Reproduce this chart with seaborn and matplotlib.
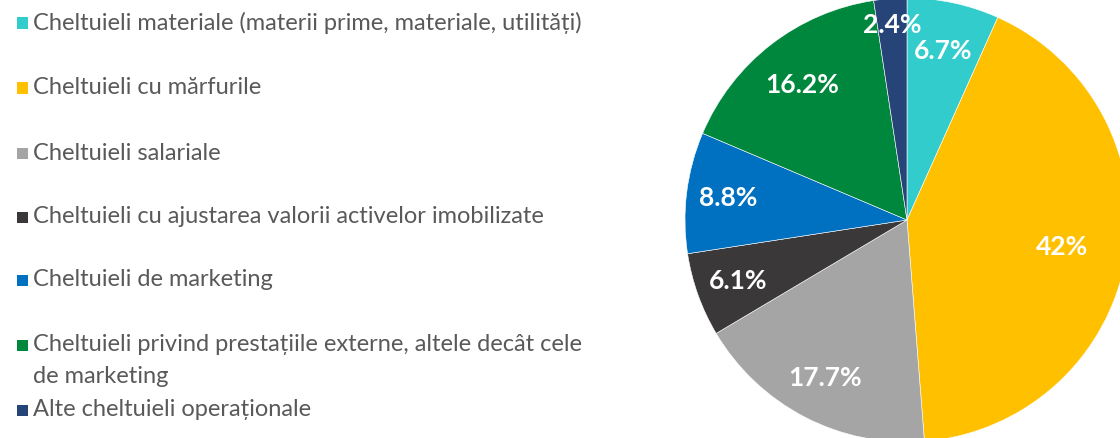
import numpy as np
import matplotlib
matplotlib.use("Agg")
import matplotlib.pyplot as plt
import matplotlib.patches as mpatches
import seaborn as sns

categories = [
    "Cheltuieli materiale (materii prime, materiale, utilități)",
    "Cheltuieli cu mărfurile",
    "Cheltuieli salariale",
    "Cheltuieli cu ajustarea valorii activelor imobilizate",
    "Cheltuieli de marketing",
    "Cheltuieli privind prestațiile externe, altele decât cele\nde marketing",
    "Alte cheltuieli operaționale",
]
values = [6.7, 42.0, 17.7, 6.1, 8.8, 16.2, 2.4]
colors = ["#33CCCC", "#FFC000", "#A5A5A5", "#3A3838", "#0070C0", "#00873E", "#264478"]

sns.set_theme(style="white")
plt.rcParams["font.family"] = ["Lato", "DejaVu Sans"]

W, H = 1120, 438
fig = plt.figure(figsize=(W / 100, H / 100), dpi=100)

# Pie axes: center (907, 220) px, radius 222 px
cx, cy, r = 907, 220, 222
ax = fig.add_axes([(cx - r) / W, (H - cy - r) / H, 2 * r / W, 2 * r / H])
wedges, _ = ax.pie(values, colors=colors, startangle=90, counterclock=False,
                   radius=1.0, wedgeprops=dict(edgecolor="white", linewidth=0.4))
ax.set_xlim(-1, 1)
ax.set_ylim(-1, 1)
ax.set_aspect("equal")
ax.axis("off")

label_dist = [0.78, 0.71, 0.80, 0.81, 0.81, 0.77, 0.88]
for w, v, d in zip(wedges, values, label_dist):
    ang = np.deg2rad((w.theta1 + w.theta2) / 2)
    ax.text(d * np.cos(ang), d * np.sin(ang), f"{v:g}%", ha="center", va="center",
            color="white", fontsize=19, fontweight="bold")

# Legend (manual layout like the original)
leg_y = [23, 88, 153, 217, 280, 345, 410]
fs = 17
for w, lab, y in zip(wedges, categories, leg_y):
    sq = 11
    fig.patches.append(mpatches.Rectangle((17 / W, (H - y - sq / 2) / H), sq / W, sq / H,
                                          transform=fig.transFigure, facecolor=w.get_facecolor(),
                                          edgecolor="none"))
    if "\n" in lab:
        fig.text(33 / W, (H - y - 15.5) / H, lab, ha="left", va="center",
                 fontsize=fs, color="#595959", linespacing=1.65)
    else:
        fig.text(33 / W, (H - y) / H, lab, ha="left", va="center",
                 fontsize=fs, color="#595959")

fig.savefig("out.png", dpi=100, facecolor="white")
